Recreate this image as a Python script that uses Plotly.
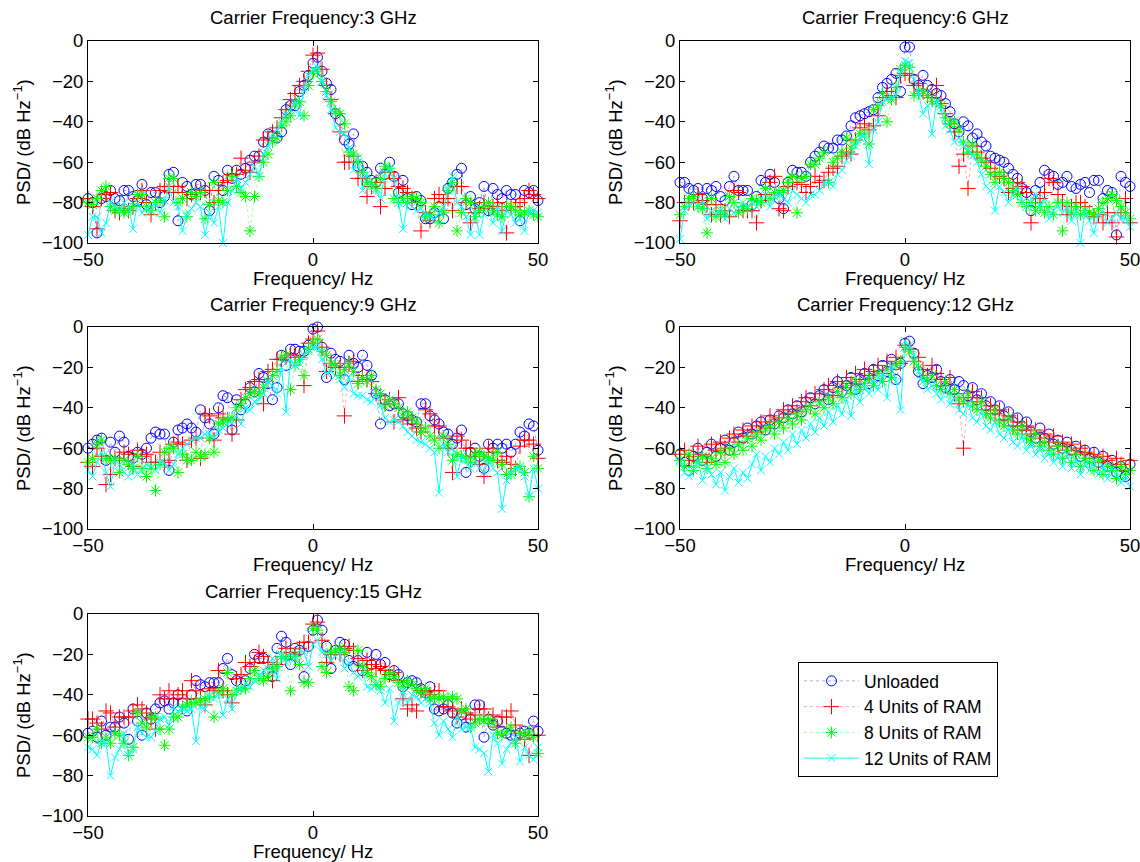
import plotly.graph_objects as go

FREQ = list(range(-50, 51))
SERIES = ["Unloaded", "4 Units of RAM", "8 Units of RAM", "12 Units of RAM"]
CARRIERS = ["3 GHz", "6 GHz", "9 GHz", "12 GHz", "15 GHz"]
X_TICKS = [-50, 0, 50]
Y_TICKS = [-100, -80, -60, -40, -20, 0]

# ---- 3 GHz ----
U3 = [-78,-80,-95,-78,-77,-74,-78,-79,-74,-74,
      -77,-79,-71,-81,-75,-75,-80,-77,-66,-65,
      -89,-70,-72,-76,-71,-71,-74,-84,-67,-69,
      -74,-64,-68,-64,-66,-63,-59,-57,-57,-50,
      -46,-47,-48,-45,-34,-32,-32,-25,-22,-17,
      -11,
      -8,-15,-21,-24,-36,-39,-49,-51,-46,-62,
      -62,-65,-69,-70,-63,-66,-60,-67,-75,-69,
      -78,-81,-77,-79,-88,-88,-85,-82,-88,-73,
      -70,-66,-63,-81,-77,-83,-80,-72,-84,-73,
      -76,-78,-74,-76,-76,-89,-74,-75,-74,-79]
R3 = [-78,-82,-93,-78,-76,-75,-84,-85,-83,-84,
      -82,-78,-74,-80,-86,-80,-74,-72,-72,-75,
      -72,-75,-78,-76,-75,-75,-74,-74,-80,-74,
      -70,-69,-66,-66,-58,-64,-65,-60,-57,-49,
      -48,-45,-43,-38,-34,-29,-26,-22,-20,-15,
      -7,
      -6,-14,-22,-29,-36,-45,-60,-60,-57,-68,
      -68,-77,-72,-70,-82,-73,-65,-68,-72,-73,
      -75,-78,-80,-94,-85,-89,-78,-76,-80,-78,
      -84,-72,-72,-80,-90,-85,-83,-80,-83,-82,
      -80,-84,-95,-82,-82,-80,-78,-74,-76,-78]
G3 = [-80,-81,-78,-74,-72,-82,-84,-83,-85,-84,
      -82,-76,-76,-82,-84,-80,-79,-87,-68,-68,
      -80,-78,-87,-75,-77,-75,-88,-81,-70,-79,
      -80,-74,-67,-72,-75,-77,-94,-77,-67,-60,
      -56,-50,-48,-42,-40,-37,-31,-30,-37,-22,
      -16,
      -15,-20,-25,-30,-35,-36,-41,-55,-56,-60,
      -65,-70,-71,-73,-68,-62,-63,-78,-80,-78,
      -80,-77,-78,-80,-87,-86,-82,-90,-85,-74,
      -70,-94,-85,-78,-80,-87,-84,-82,-80,-84,
      -86,-87,-82,-82,-84,-86,-85,-84,-86,-87]
C3 = [-96,-87,-87,-95,-90,-80,-82,-84,-80,-82,
      -93,-80,-85,-83,-84,-80,-85,-79,-72,-80,
      -82,-94,-86,-83,-80,-82,-96,-85,-90,-82,
      -100,-80,-74,-68,-73,-70,-66,-62,-67,-56,
      -52,-46,-44,-40,-36,-34,-30,-37,-24,-17,
      -14,
      -13,-20,-27,-34,-43,-45,-46,-53,-64,-58,
      -74,-66,-72,-74,-78,-66,-63,-68,-80,-93,
      -80,-82,-84,-83,-86,-87,-88,-85,-82,-73,
      -67,-80,-82,-87,-96,-84,-96,-86,-84,-90,
      -82,-94,-84,-86,-90,-88,-94,-84,-84,-85]

# ---- 6 GHz ----
U6 = [-70,-70,-73,-74,-73,-78,-73,-74,-72,-77,
      -79,-72,-67,-74,-74,-74,-81,-77,-69,-70,
      -66,-70,-78,-83,-70,-64,-65,-65,-67,-60,
      -57,-55,-52,-53,-53,-49,-49,-47,-42,-38,
      -37,-36,-35,-34,-28,-23,-21,-19,-16,-25,
      -3,
      -3,-19,-22,-17,-22,-24,-26,-27,-31,-35,
      -41,-45,-40,-42,-48,-46,-50,-52,-57,-58,
      -59,-60,-63,-66,-68,-73,-75,-84,-74,-70,
      -64,-66,-67,-71,-70,-67,-72,-73,-71,-70,
      -75,-69,-69,-78,-74,-75,-96,-67,-70,-72]
R6 = [-89,-80,-80,-80,-76,-79,-81,-86,-81,-86,
      -84,-87,-74,-75,-84,-84,-84,-90,-79,-76,
      -70,-67,-83,-84,-72,-70,-70,-71,-75,-72,
      -67,-70,-69,-65,-63,-62,-57,-55,-56,-49,
      -43,-41,-44,-42,-37,-28,-25,-27,-28,-17,
      -16,
      -17,-22,-21,-25,-27,-28,-22,-31,-36,-41,
      -45,-62,-56,-73,-52,-55,-58,-60,-63,-65,
      -67,-68,-75,-73,-70,-72,-75,-90,-80,-78,
      -75,-68,-70,-76,-80,-86,-82,-80,-80,-82,
      -85,-87,-86,-90,-85,-90,-97,-85,-78,-90]
G6 = [-86,-82,-78,-77,-82,-83,-95,-78,-87,-84,
      -86,-77,-80,-85,-82,-83,-78,-79,-80,-73,
      -78,-75,-75,-74,-70,-67,-85,-68,-67,-61,
      -61,-58,-55,-70,-60,-58,-55,-48,-53,-50,
      -46,-46,-51,-34,-32,-26,-40,-29,-23,-14,
      -12,
      -13,-27,-26,-25,-27,-30,-30,-32,-38,-41,
      -40,-44,-50,-55,-51,-56,-59,-62,-66,-70,
      -65,-68,-70,-74,-76,-80,-82,-80,-84,-82,
      -85,-82,-86,-80,-94,-80,-85,-82,-86,-84,
      -85,-86,-83,-80,-78,-76,-79,-82,-85,-88]
C6 = [-98,-84,-81,-80,-82,-79,-88,-84,-86,-83,
      -88,-83,-85,-83,-80,-82,-80,-82,-78,-76,
      -82,-77,-76,-78,-80,-74,-76,-78,-80,-76,
      -76,-74,-70,-70,-72,-66,-64,-59,-57,-52,
      -48,-47,-61,-44,-40,-30,-29,-28,-27,-16,
      -10,
      -11,-19,-26,-36,-32,-46,-30,-34,-42,-44,
      -50,-48,-52,-54,-57,-60,-66,-72,-74,-84,
      -72,-75,-80,-76,-72,-80,-82,-80,-76,-82,
      -78,-88,-84,-81,-85,-82,-89,-84,-100,-84,
      -89,-95,-86,-84,-90,-88,-85,-88,-88,-92]

# ---- 9 GHz ----
U9 = [-60,-58,-56,-55,-66,-57,-62,-54,-57,-64,
      -65,-62,-63,-60,-55,-52,-53,-53,-71,-57,
      -51,-50,-48,-50,-52,-41,-45,-48,-53,-40,
      -34,-35,-51,-36,-41,-38,-30,-32,-23,-25,
      -28,-36,-30,-14,-19,-11,-11,-12,-12,-9,
      -1,
      0,-10,-25,-13,-16,-17,-26,-14,-18,-20,
      -14,-19,-24,-33,-48,-36,-39,-38,-38,-43,
      -44,-46,-47,-38,-38,-44,-46,-48,-52,-53,
      -58,-55,-51,-72,-62,-60,-64,-70,-58,-60,
      -58,-60,-58,-62,-58,-52,-54,-48,-49,-61]
R9 = [-67,-69,-60,-64,-78,-73,-65,-66,-62,-63,
      -69,-61,-64,-63,-67,-67,-62,-67,-66,-58,
      -57,-58,-66,-56,-55,-65,-43,-44,-56,-43,
      -45,-46,-53,-46,-36,-31,-30,-27,-26,-38,
      -22,-21,-16,-16,-15,-14,-14,-15,-29,-8,
      -6,
      -2,-10,-22,-18,-20,-20,-44,-18,-17,-27,
      -24,-26,-27,-33,-34,-38,-36,-47,-35,-46,
      -45,-48,-50,-52,-41,-43,-49,-49,-55,-60,
      -72,-54,-56,-60,-60,-64,-68,-74,-60,-62,
      -66,-67,-64,-68,-70,-59,-56,-56,-58,-65]
G9 = [-67,-65,-58,-56,-65,-66,-65,-72,-66,-68,
      -70,-64,-70,-74,-70,-81,-68,-62,-60,-60,
      -72,-63,-66,-66,-62,-64,-63,-55,-62,-48,
      -47,-46,-45,-40,-38,-35,-33,-32,-33,-30,
      -27,-24,-22,-15,-14,-31,-19,-16,-24,-11,
      -8,
      -6,-12,-14,-18,-19,-24,-21,-18,-22,-28,
      -25,-27,-24,-31,-33,-39,-36,-38,-40,-44,
      -42,-45,-47,-52,-50,-54,-56,-60,-54,-58,
      -66,-63,-64,-65,-67,-63,-62,-64,-65,-66,
      -62,-68,-73,-73,-70,-69,-72,-84,-64,-70]
C9 = [-71,-74,-67,-62,-72,-79,-66,-68,-72,-74,
      -68,-73,-71,-68,-69,-71,-67,-67,-71,-68,
      -63,-60,-58,-56,-55,-55,-53,-53,-55,-51,
      -50,-48,-46,-44,-48,-40,-41,-37,-36,-33,
      -27,-29,-33,-20,-42,-16,-19,-18,-14,-12,
      -10,
      -10,-16,-23,-22,-24,-26,-30,-25,-33,-34,
      -34,-36,-37,-34,-39,-45,-47,-46,-47,-49,
      -52,-54,-56,-57,-58,-60,-62,-82,-58,-62,
      -60,-74,-64,-66,-70,-66,-70,-72,-66,-70,
      -72,-90,-76,-72,-70,-70,-74,-84,-70,-80]

# ---- 12 GHz ----
U12 = [-63,-67,-71,-64,-60,-66,-62,-58,-64,-60,
       -56,-61,-57,-52,-55,-50,-53,-49,-47,-51,
       -46,-48,-44,-45,-41,-43,-39,-42,-37,-35,
       -38,-34,-31,-36,-30,-27,-32,-29,-25,-31,
       -26,-23,-28,-21,-24,-19,-22,-16,-26,-18,
       -8,
       -7,-13,-22,-28,-24,-25,-21,-27,-30,-26,
       -31,-27,-29,-34,-30,-36,-33,-39,-37,-41,
       -39,-44,-42,-47,-45,-49,-47,-52,-55,-50,
       -55,-53,-58,-56,-60,-57,-61,-59,-64,-61,
       -65,-62,-67,-64,-69,-66,-72,-69,-74,-68]
R12 = [-63,-61,-66,-64,-59,-63,-67,-58,-61,-57,
       -60,-55,-53,-57,-51,-54,-49,-52,-47,-50,
       -44,-47,-45,-41,-43,-39,-42,-37,-35,-39,
       -33,-36,-31,-29,-34,-27,-30,-25,-28,-23,
       -26,-21,-24,-22,-19,-23,-17,-21,-15,-18,
       -9,
       -11,-17,-15,-21,-24,-19,-23,-26,-29,-25,
       -33,-38,-60,-35,-32,-37,-35,-41,-39,-43,
       -41,-46,-44,-49,-47,-51,-49,-53,-51,-55,
       -53,-57,-54,-59,-57,-61,-58,-63,-60,-62,
       -65,-63,-67,-64,-66,-69,-65,-68,-71,-66]
G12 = [-66,-69,-63,-71,-67,-64,-70,-65,-68,-62,
       -67,-60,-63,-58,-61,-55,-59,-53,-56,-51,
       -49,-53,-47,-50,-45,-48,-43,-46,-41,-39,
       -43,-37,-40,-35,-38,-32,-35,-29,-33,-27,
       -31,-28,-25,-29,-23,-27,-21,-25,-19,-17,
       -10,
       -12,-17,-20,-25,-27,-24,-29,-31,-27,-33,
       -31,-35,-37,-33,-39,-41,-37,-43,-45,-41,
       -47,-49,-45,-51,-53,-49,-55,-57,-53,-59,
       -57,-61,-63,-59,-65,-61,-67,-63,-69,-65,
       -67,-71,-66,-73,-69,-71,-75,-69,-73,-71]
C12 = [-67,-72,-74,-70,-66,-76,-69,-73,-78,-72,
       -81,-74,-70,-77,-72,-75,-68,-63,-71,-64,
       -67,-60,-63,-57,-61,-53,-58,-51,-55,-48,
       -52,-45,-49,-42,-47,-39,-43,-36,-44,-31,
       -37,-29,-33,-26,-31,-23,-35,-19,-27,-41,
       -7,
       -9,-14,-22,-27,-31,-29,-33,-36,-31,-38,
       -35,-41,-43,-38,-45,-47,-42,-49,-51,-47,
       -53,-55,-50,-57,-59,-54,-61,-58,-63,-60,
       -65,-62,-67,-64,-69,-63,-70,-66,-73,-68,
       -71,-66,-73,-69,-75,-70,-72,-77,-74,-79]

# ---- 15 GHz ----
U15 = [-59,-58,-61,-53,-60,-56,-56,-51,-54,-62,
       -47,-53,-60,-49,-52,-47,-44,-43,-47,-44,
       -40,-44,-48,-40,-33,-35,-36,-34,-34,-34,
       -27,-22,-30,-33,-34,-33,-27,-20,-22,-22,
       -29,-31,-17,-11,-14,-25,-17,-18,-31,-16,
       -8,
       -3,-8,-16,-27,-18,-14,-15,-23,-26,-23,
       -28,-19,-25,-20,-25,-24,-30,-28,-30,-36,
       -34,-33,-34,-37,-39,-36,-47,-48,-47,-45,
       -49,-54,-50,-56,-52,-45,-45,-61,-52,-55,
       -53,-58,-59,-60,-60,-59,-58,-59,-53,-58]
R15 = [-52,-52,-54,-57,-48,-49,-56,-51,-51,-51,
       -48,-45,-47,-49,-52,-57,-40,-42,-38,-42,
       -40,-38,-42,-33,-38,-42,-45,-37,-38,-28,
       -38,-40,-44,-32,-30,-24,-26,-24,-19,-21,
       -24,-33,-25,-21,-17,-19,-20,-17,-14,-14,
       -5,
       -4,-13,-24,-20,-19,-20,-17,-16,-18,-22,
       -28,-23,-25,-27,-26,-28,-30,-29,-33,-42,
       -47,-45,-48,-38,-39,-40,-38,-38,-46,-46,
       -48,-51,-47,-49,-52,-50,-47,-47,-52,-50,
       -56,-51,-51,-48,-55,-59,-62,-70,-60,-60]
G15 = [-61,-61,-57,-64,-61,-64,-59,-60,-64,-70,
       -66,-49,-54,-56,-51,-51,-57,-65,-57,-51,
       -51,-46,-45,-44,-44,-43,-42,-41,-51,-39,
       -37,-29,-40,-38,-37,-37,-32,-28,-32,-33,
       -31,-27,-26,-21,-22,-38,-21,-25,-34,-34,
       -7,
       -8,-26,-29,-19,-18,-17,-19,-36,-38,-18,
       -26,-29,-31,-35,-36,-32,-29,-31,-34,-36,
       -33,-35,-37,-39,-37,-42,-41,-42,-41,-42,
       -41,-42,-48,-47,-56,-54,-52,-53,-52,-54,
       -59,-60,-58,-56,-64,-59,-60,-58,-61,-69]
C15 = [-66,-67,-70,-63,-64,-80,-71,-67,-59,-70,
       -67,-56,-59,-61,-61,-58,-52,-51,-55,-46,
       -48,-47,-48,-47,-63,-46,-47,-40,-42,-40,
       -50,-42,-47,-38,-37,-34,-36,-33,-31,-28,
       -27,-22,-32,-20,-24,-19,-22,-18,-19,-26,
       -15,
       -13,-19,-20,-23,-21,-19,-27,-24,-29,-31,
       -29,-36,-37,-34,-38,-44,-37,-53,-44,-38,
       -44,-40,-41,-44,-42,-44,-54,-60,-53,-57,
       -61,-51,-57,-56,-56,-66,-67,-69,-78,-60,
       -64,-74,-67,-64,-61,-73,-66,-70,-72,-66]

DATA = [
    [U3, R3, G3, C3],
    [U6, R6, G6, C6],
    [U9, R9, G9, C9],
    [U12, R12, G12, C12],
    [U15, R15, G15, C15],
]

W, H = 1140, 862
FONT = "Liberation Sans, Arial, Helvetica, sans-serif"
FS = 18.5

# axis boxes in pixels (left, right, top, bottom)
BOXES = [
    (88, 538, 41, 243),
    (680, 1130, 41, 243),
    (88, 538, 327, 529),
    (680, 1130, 327, 529),
    (88, 538, 614, 816),
]

STYLES = [
    dict(symbol="circle-open", color="#0000FF", line="rgba(0,0,255,0.35)", dash="dot", size=10),
    dict(symbol="cross-thin-open", color="#FF0000", line="rgba(255,0,0,0.35)", dash="dot", size=11),
    dict(symbol="asterisk-open", color="#00FF00", line="rgba(0,255,0,0.35)", dash="dot", size=10),
    dict(symbol="x-thin-open", color="#00FFFF", line="#00FFFF", dash="solid", size=8),
]

fig = go.Figure()
annotations = []
layout = {}

for i, (series_set, carrier) in enumerate(zip(DATA, CARRIERS)):
    k = "" if i == 0 else str(i + 1)
    l, r, t, b = BOXES[i]
    for j, (vals, name) in enumerate(zip(series_set, SERIES)):
        st = STYLES[j]
        fig.add_trace(go.Scatter(
            x=FREQ, y=vals, name=name, mode="lines+markers",
            xaxis="x" + k, yaxis="y" + k,
            showlegend=(i == 0), legendgroup=name, cliponaxis=False,
            line=dict(color=st["line"], width=1, dash=st["dash"]),
            marker=dict(symbol=st["symbol"], size=st["size"], color=st["color"],
                        line=dict(color=st["color"], width=1)),
        ))
    common = dict(showline=True, linecolor="black", linewidth=1, mirror="ticks",
                  ticks="inside", ticklen=5, tickcolor="black", tickwidth=1,
                  showgrid=False, zeroline=False, automargin=False,
                  ticklabeloverflow="allow",
                  tickfont=dict(family=FONT, size=FS, color="black"))
    layout["xaxis" + k] = dict(common, domain=[l / W, r / W], range=[-50, 50],
                               tickvals=X_TICKS, anchor="y" + k)
    layout["yaxis" + k] = dict(common, domain=[1 - b / H, 1 - t / H], range=[-100, 0],
                               tickvals=Y_TICKS, anchor="x" + k)
    cx = (l + r) / 2 / W
    annotations.append(dict(text="Carrier Frequency:" + carrier, x=cx, y=1 - (t - 23) / H,
                            xref="paper", yref="paper", showarrow=False,
                            xanchor="center", yanchor="middle",
                            font=dict(family=FONT, size=FS, color="black")))
    annotations.append(dict(text="Frequency/ Hz", x=cx, y=1 - (b + 35) / H,
                            xref="paper", yref="paper", showarrow=False,
                            xanchor="center", yanchor="middle",
                            font=dict(family=FONT, size=FS, color="black")))
    annotations.append(dict(text="PSD/ (dB Hz<sup>\u22121</sup>)", x=(l - 66) / W,
                            y=1 - (t + b) / 2 / H, textangle=-90,
                            xref="paper", yref="paper", showarrow=False,
                            xanchor="center", yanchor="middle",
                            font=dict(family=FONT, size=FS, color="black")))

fig.update_layout(
    width=W, height=H,
    margin=dict(l=0, r=0, t=0, b=0, autoexpand=False),
    paper_bgcolor="white", plot_bgcolor="white",
    font=dict(family=FONT, size=FS, color="black"),
    annotations=annotations,
    showlegend=True,
    legend=dict(x=798 / W, y=1 - 719.5 / H, xanchor="left", yanchor="middle",
                bordercolor="black", borderwidth=1, bgcolor="white",
                font=dict(family=FONT, size=17.5, color="black"),
                itemwidth=55, tracegroupgap=0),
    **layout,
)

fig.write_html("out.html")
